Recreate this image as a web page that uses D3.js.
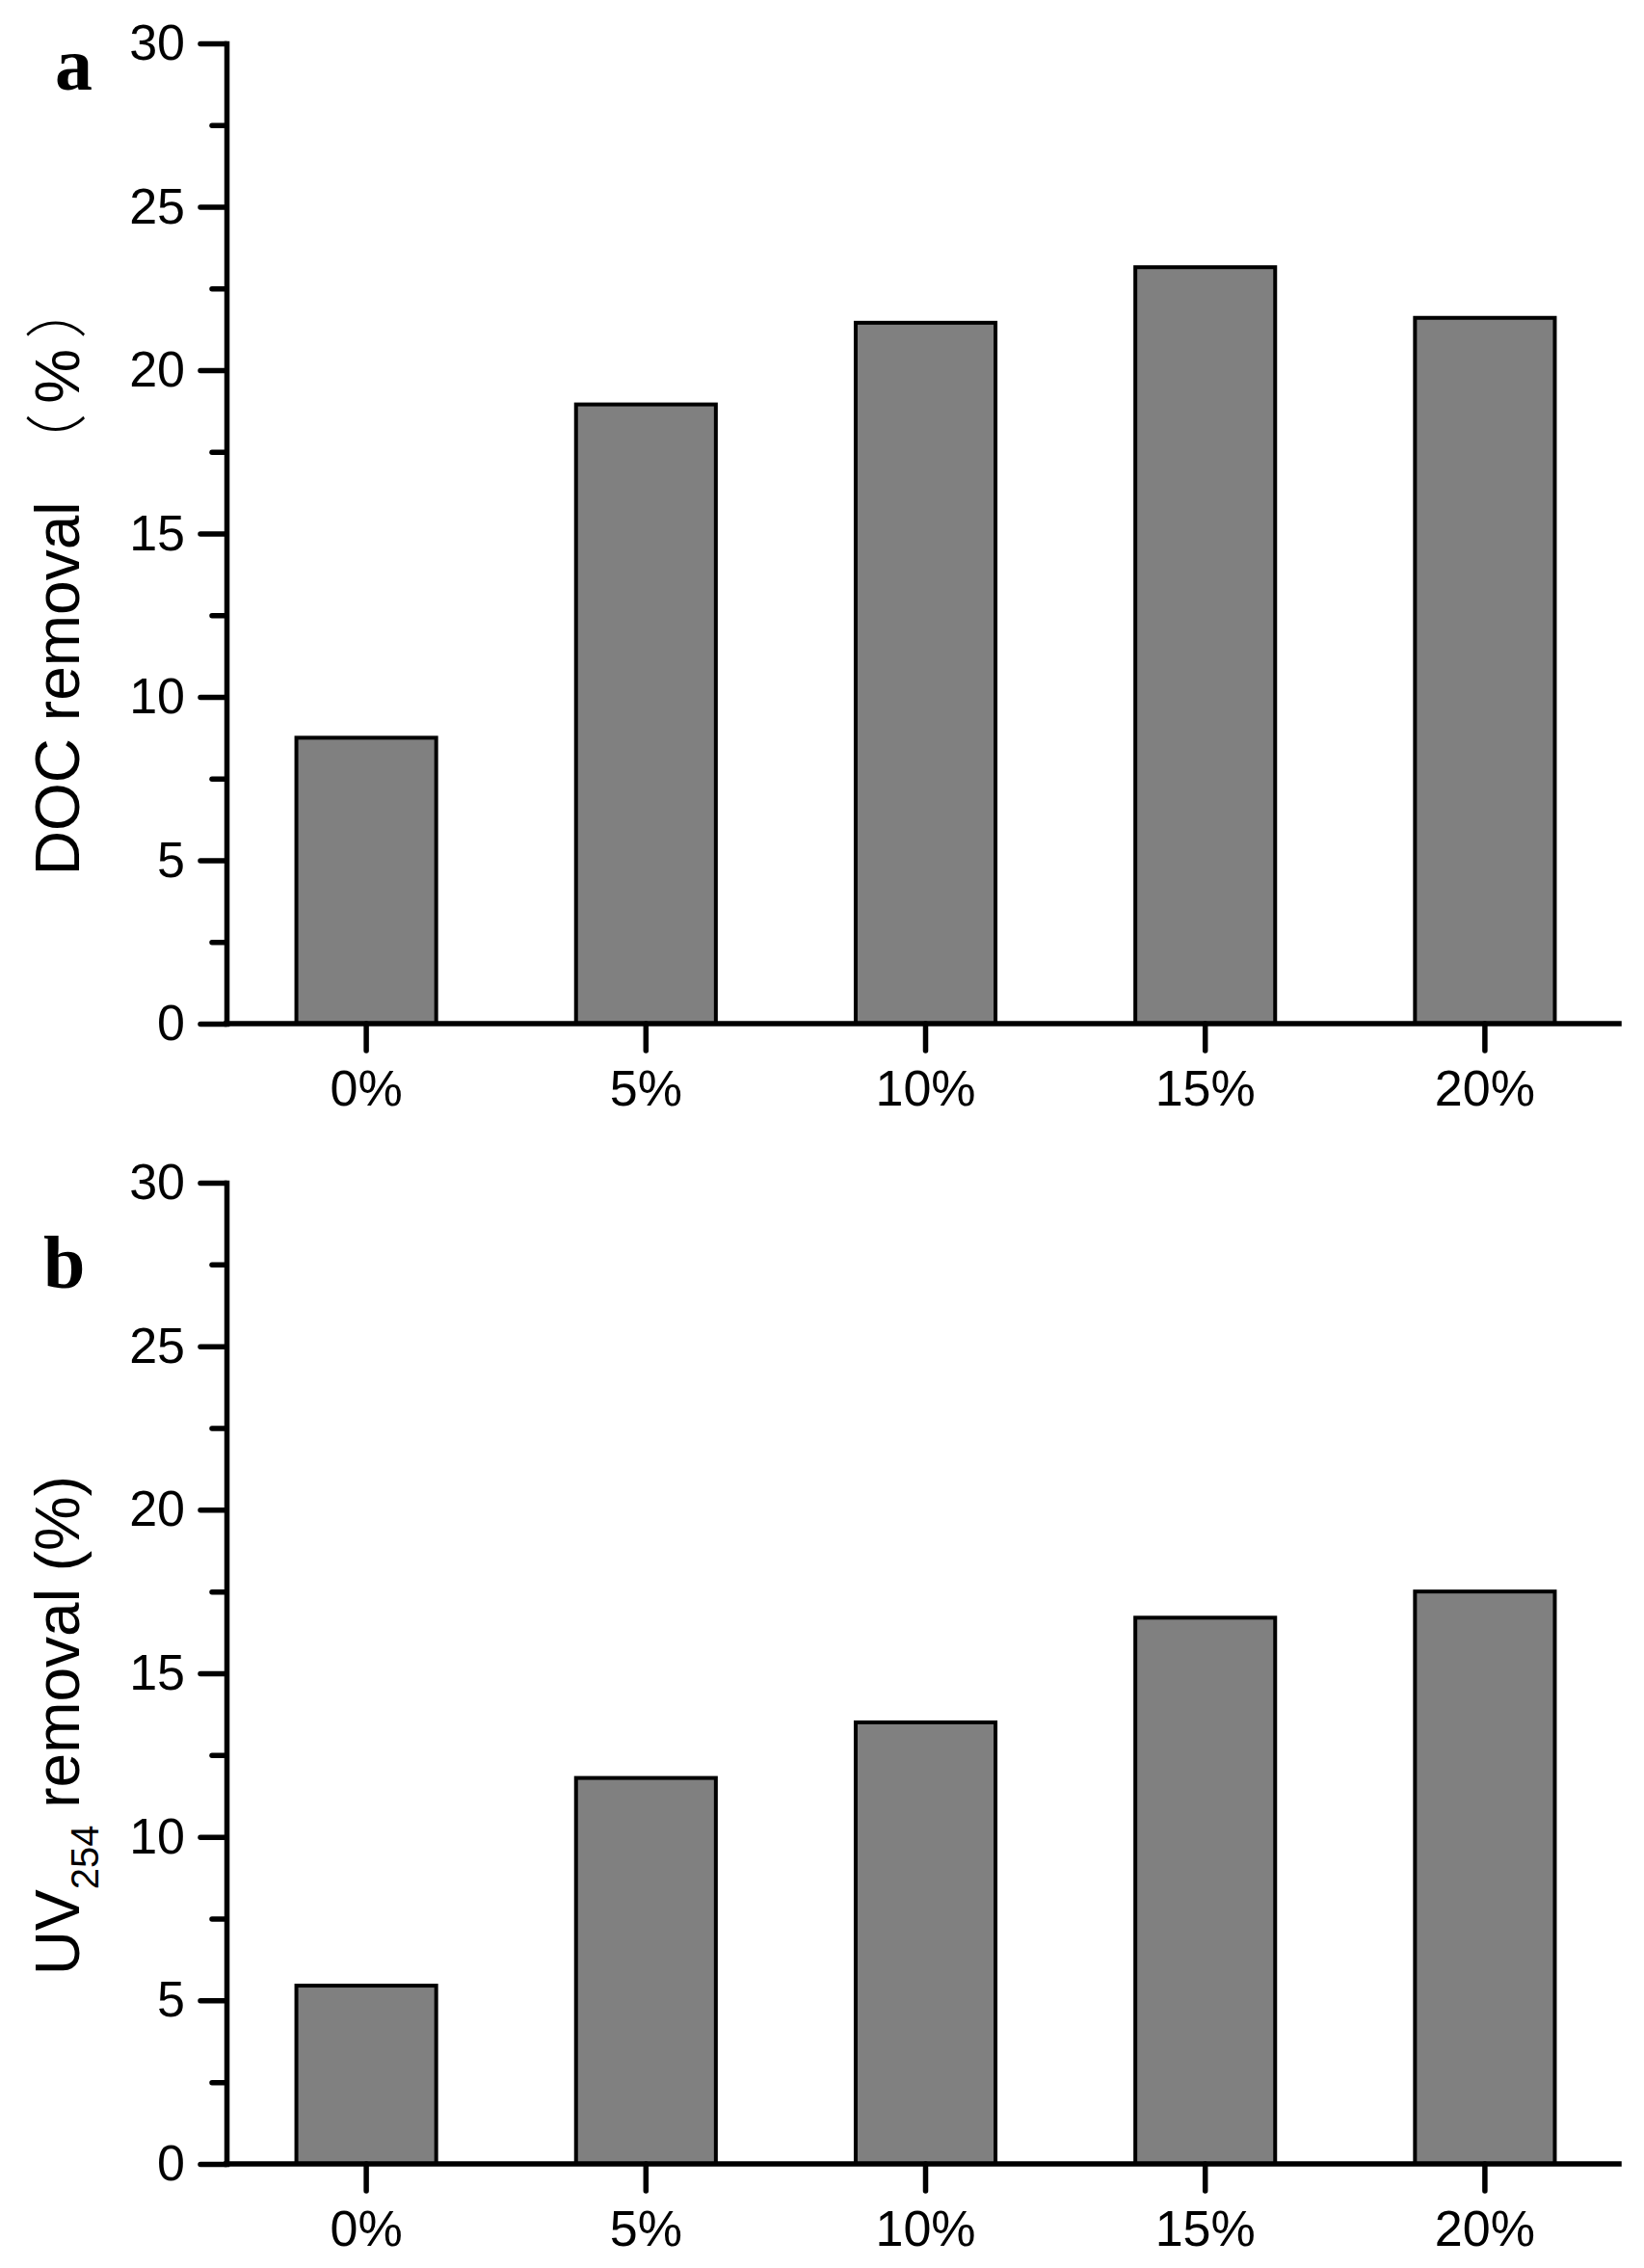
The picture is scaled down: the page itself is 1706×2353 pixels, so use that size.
<!DOCTYPE html>
<html>
<head>
<meta charset="utf-8">
<script src="https://cdn.jsdelivr.net/npm/d3@7"></script>
<style>
  html, body { margin: 0; padding: 0; background: #fff; }
  svg { display: block; }
</style>
</head>
<body>
<div id="chart"></div>
<script>
// ---- data ----
const categories = ["0%", "5%", "10%", "15%", "20%"];
const docRemoval = [8.75, 18.95, 21.45, 23.15, 21.6];
const uvRemoval = [5.45, 11.8, 13.5, 16.7, 17.5];
const yMajorTicks = [0, 5, 10, 15, 20, 25, 30];
const yMinorTicks = [2.5, 7.5, 12.5, 17.5, 22.5, 27.5];

const W = 1706, H = 2353;
const svg = d3.select("#chart").append("svg").attr("width", W).attr("height", H);

const FONT = "'Liberation Sans', Arial, sans-serif";
const AXW = 5.5;
const X0 = 235, XEND = 1680;

const xScale = d3.scaleBand().domain(categories).range([X0, 1686]).paddingInner(0.5).paddingOuter(0.25);

function panel(values, yTop, yBottom, letter, letterPos, labelFn, labelCenterY) {
  const y = d3.scaleLinear().domain([0, 30]).range([yBottom, yTop]);
  const g = svg.append("g");

  // bars
  g.selectAll("rect.bar").data(values).join("rect")
    .attr("class", "bar")
    .attr("x", (d, i) => xScale(categories[i]))
    .attr("width", xScale.bandwidth())
    .attr("y", d => y(d))
    .attr("height", d => y(0) - y(d))
    .attr("fill", "#808080")
    .attr("stroke", "#000")
    .attr("stroke-width", 4);

  // x axis
  const xa = g.append("g").attr("transform", `translate(0,${yBottom})`)
    .call(d3.axisBottom(xScale).tickSize(28).tickSizeOuter(0).tickPadding(20));
  xa.select("path.domain").attr("d", `M${X0},0H${XEND}`);
  // y minor
  const ym = g.append("g").attr("transform", `translate(${X0},0)`)
    .call(d3.axisLeft(y).tickValues(yMinorTicks).tickSize(15).tickSizeOuter(0).tickFormat(""));
  ym.select(".domain").remove();
  // y major
  const ya = g.append("g").attr("transform", `translate(${X0},0)`)
    .call(d3.axisLeft(y).tickValues(yMajorTicks).tickSize(27).tickSizeOuter(0).tickPadding(16));

  [xa, ya, ym].forEach(a => {
    a.selectAll("path.domain").attr("stroke", "#000").attr("stroke-width", AXW).attr("stroke-linecap", "square");
    a.selectAll(".tick line").attr("stroke", "#000").attr("stroke-width", AXW).attr("stroke-linecap", "round");
    a.selectAll(".tick text").attr("font-family", FONT).attr("font-size", 52).attr("fill", "#000");
  });

  // panel letter
  g.append("text").attr("x", letterPos[0]).attr("y", letterPos[1])
    .attr("font-family", "'Liberation Serif', 'Times New Roman', serif")
    .attr("font-weight", "bold").attr("font-size", 78).text(letter);

  // y label
  const lab = g.append("text")
    .attr("transform", `translate(82,${labelCenterY}) rotate(-90)`)
    .attr("text-anchor", "middle")
    .attr("font-family", FONT).attr("font-size", 64).attr("fill", "#000");
  labelFn(lab);
}

panel(docRemoval, 45, 1062, "a", [57, 93], t => {
  t.append("tspan").text("DOC removal ");
  t.append("tspan").attr("dx", 10).attr("font-family", "'Noto Sans CJK SC', sans-serif").attr("font-weight", "300").text("（");
  t.append("tspan").attr("dx", 10).text("%");
  t.append("tspan").attr("dx", 10).attr("font-family", "'Noto Sans CJK SC', sans-serif").attr("font-weight", "300").text("）");
}, 598);

panel(uvRemoval, 1227, 2245, "b", [45, 1336], t => {
  t.append("tspan").text("UV");
  t.append("tspan").attr("font-size", 40).attr("dy", 20).text("254");
  t.append("tspan").attr("dy", -20).text(" removal (%)");
}, 1790);
</script>
</body>
</html>
